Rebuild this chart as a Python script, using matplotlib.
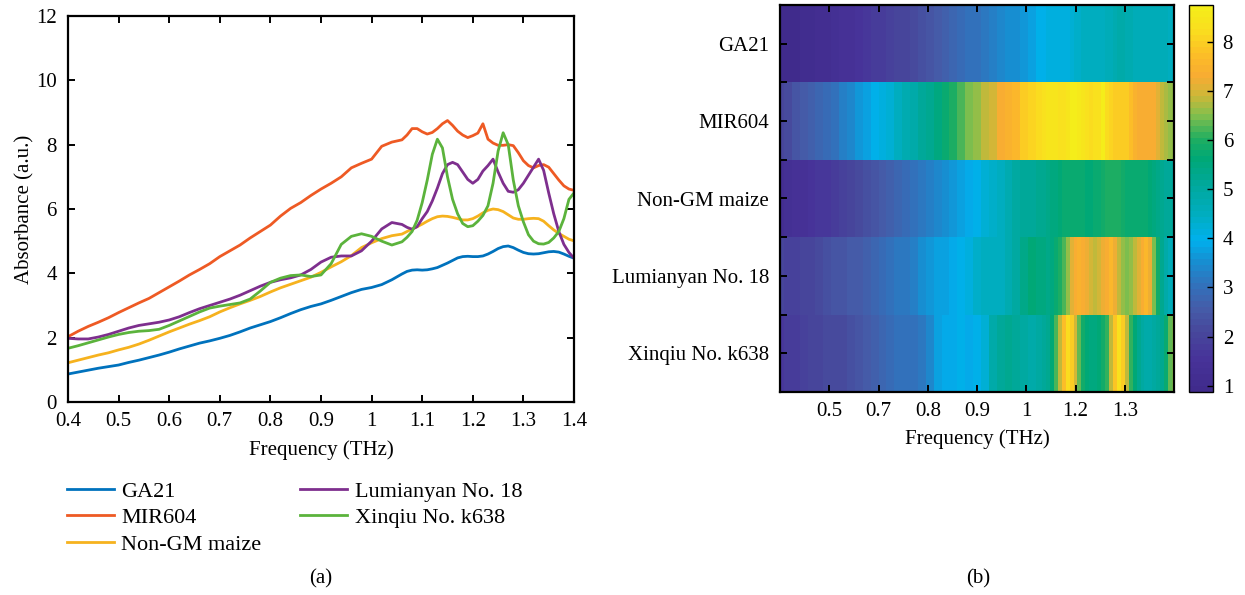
import numpy as np
import matplotlib
matplotlib.use("Agg")
import matplotlib.pyplot as plt
from matplotlib.colors import LinearSegmentedColormap

plt.rcParams['font.family'] = ['Liberation Serif', 'DejaVu Serif']
plt.rcParams['mathtext.fontset'] = 'stix'

# ---------------- data ----------------
freq = [0.40, 0.42, 0.44, 0.46, 0.48, 0.50, 0.52, 0.54, 0.56, 0.58,
        0.60, 0.62, 0.64, 0.66, 0.68, 0.70, 0.72, 0.74, 0.76, 0.78,
        0.80, 0.82, 0.84, 0.86, 0.88, 0.90, 0.92, 0.94, 0.96, 0.98,
        1.00, 1.02, 1.04, 1.06,
        1.07, 1.08, 1.09, 1.10, 1.11, 1.12, 1.13, 1.14, 1.15, 1.16,
        1.17, 1.18, 1.19, 1.20, 1.21, 1.22, 1.23, 1.24, 1.25, 1.26,
        1.27, 1.28, 1.29, 1.30, 1.31, 1.32, 1.33, 1.34, 1.35, 1.36,
        1.37, 1.38, 1.39, 1.40]

ga21 = [0.87, 0.93, 0.99, 1.05, 1.10, 1.15, 1.23, 1.30, 1.38, 1.46,
        1.55, 1.65, 1.74, 1.83, 1.90, 1.98, 2.07, 2.18, 2.30, 2.40,
        2.50, 2.62, 2.75, 2.87, 2.97, 3.05, 3.16, 3.28, 3.40, 3.50,
        3.56, 3.65, 3.80, 3.98,
        4.06, 4.10, 4.11, 4.10, 4.11, 4.14, 4.18, 4.25, 4.32, 4.40,
        4.48, 4.52, 4.53, 4.52, 4.52, 4.54, 4.60, 4.68, 4.77, 4.83,
        4.85, 4.80, 4.72, 4.65, 4.61, 4.60, 4.61, 4.64, 4.67, 4.68,
        4.66, 4.60, 4.53, 4.47]

mir604 = [2.03, 2.20, 2.35, 2.48, 2.62, 2.78, 2.93, 3.08, 3.22, 3.40,
          3.58, 3.76, 3.95, 4.12, 4.30, 4.52, 4.70, 4.88, 5.10, 5.30,
          5.50, 5.78, 6.02, 6.20, 6.42, 6.62, 6.80, 7.00, 7.28, 7.42,
          7.55, 7.95, 8.08, 8.15,
          8.30, 8.50, 8.50, 8.40, 8.33, 8.38, 8.50, 8.65, 8.75, 8.60,
          8.42, 8.30, 8.22, 8.28, 8.36, 8.65, 8.17, 8.05, 7.98, 7.98,
          8.00, 7.97, 7.75, 7.50, 7.35, 7.28, 7.35, 7.38, 7.30, 7.10,
          6.90, 6.72, 6.62, 6.58]

nongm = [1.22, 1.30, 1.38, 1.46, 1.53, 1.62, 1.70, 1.80, 1.92, 2.05,
         2.18, 2.30, 2.42, 2.53, 2.65, 2.80, 2.93, 3.05, 3.16, 3.28,
         3.42, 3.55, 3.66, 3.77, 3.88, 4.03, 4.20, 4.36, 4.55, 4.80,
         4.95, 5.08, 5.17, 5.22,
         5.30, 5.38, 5.45, 5.53, 5.62, 5.70, 5.76, 5.78, 5.77, 5.74,
         5.70, 5.66, 5.66, 5.70, 5.78, 5.88, 5.96, 6.00, 5.98, 5.92,
         5.82, 5.72, 5.68, 5.68, 5.70, 5.71, 5.70, 5.62, 5.48, 5.35,
         5.24, 5.15, 5.06, 5.01]

lumianyan = [1.98, 1.96, 1.96, 2.02, 2.10, 2.20, 2.30, 2.38, 2.43, 2.48,
             2.55, 2.65, 2.78, 2.90, 3.00, 3.10, 3.20, 3.32, 3.46, 3.60,
             3.72, 3.80, 3.86, 3.95, 4.12, 4.35, 4.50, 4.54, 4.54, 4.70,
             5.00, 5.38, 5.58, 5.52,
             5.43, 5.37, 5.45, 5.70, 5.92, 6.25, 6.65, 7.10, 7.38, 7.45,
             7.38, 7.15, 6.92, 6.80, 6.92, 7.18, 7.35, 7.55, 7.15, 6.80,
             6.55, 6.52, 6.60, 6.80, 7.05, 7.30, 7.55, 7.20, 6.50, 5.85,
             5.30, 4.90, 4.65, 4.47]

xinqiu = [1.67, 1.75, 1.84, 1.93, 2.02, 2.10, 2.16, 2.20, 2.22, 2.26,
          2.38, 2.52, 2.66, 2.80, 2.92, 2.98, 3.03, 3.08, 3.20, 3.45,
          3.72, 3.85, 3.93, 3.95, 3.90, 3.95, 4.30, 4.90, 5.15, 5.23,
          5.15, 5.00, 4.88, 4.98,
          5.12, 5.30, 5.65, 6.20, 6.90, 7.70, 8.17, 7.90, 7.00, 6.30,
          5.85, 5.55, 5.45, 5.48, 5.62, 5.80, 6.10, 6.80, 7.80, 8.37,
          8.00, 6.90, 6.10, 5.60, 5.20, 5.00, 4.92, 4.91, 4.96, 5.10,
          5.30, 5.70, 6.30, 6.50]

series_names = ["GA21", "MIR604", "Non-GM maize", "Lumianyan No. 18", "Xinqiu No. k638"]
series_values = [ga21, mir604, nongm, lumianyan, xinqiu]

xticks_a = [0.4, 0.5, 0.6, 0.7, 0.8, 0.9, 1.0, 1.1, 1.2, 1.3, 1.4]
xticklabels_a = ["0.4", "0.5", "0.6", "0.7", "0.8", "0.9", "1", "1.1", "1.2", "1.3", "1.4"]
yticks_a = [0, 2, 4, 6, 8, 10, 12]
heat_xticklabels = ["0.5", "0.7", "0.8", "0.9", "1", "1.2", "1.3"]
cbar_ticks = [1, 2, 3, 4, 5, 6, 7, 8]

# ---------------- style ----------------
line_colors = ["#0072BD", "#EE5A24", "#F6B21E", "#7E2F8E", "#5BB33C"]
FS = 15
LFS = 16
W, H = 1245, 595

fig = plt.figure(figsize=(W / 100, H / 100), dpi=100)

def fx(px):
    return px / W

def fy(py):
    return 1 - py / H

# ---------------- (a) line plot ----------------
ax = fig.add_axes([fx(68), fy(402), fx(574) - fx(68), fy(16) - fy(402)])
x = np.array(freq)
handles = []
for name, vals, c in zip(series_names, series_values, line_colors):
    h, = ax.plot(x, vals, color=c, lw=2.0, label=name, solid_joinstyle='round')
    handles.append(h)
ax.set_xlim(0.4, 1.4)
ax.set_ylim(0, 12)
ax.set_xticks(xticks_a)
ax.set_xticklabels(xticklabels_a)
ax.set_yticks(yticks_a)
ax.tick_params(direction='in', top=True, right=True, length=5, width=1.4,
               labelsize=FS)
ax.tick_params(axis='x', pad=7)
ax.tick_params(axis='y', pad=8)
for s in ax.spines.values():
    s.set_linewidth(1.6)
ax.set_xlabel("Frequency (THz)", fontsize=FS, labelpad=7)
ax.set_ylabel("Absorbance (a.u.)", fontsize=FS, labelpad=1)

leg = ax.legend(handles=handles, ncol=2, frameon=False, fontsize=LFS,
                loc='upper left', bbox_to_anchor=(fx(67), fy(481)),
                bbox_transform=fig.transFigure, borderpad=0, borderaxespad=0,
                handlelength=2.1, handletextpad=0.35, columnspacing=1.75,
                labelspacing=0.27)

fig.text(fx(321), fy(579), "(a)", ha='center', va='center', fontsize=FS)

# ---------------- (b) heatmap ----------------
cmap_colors = [
    (0.00, (0.25, 0.17, 0.55)),
    (0.08, (0.28, 0.20, 0.60)),
    (0.15, (0.28, 0.28, 0.61)),
    (0.21, (0.27, 0.36, 0.66)),
    (0.275, (0.19, 0.45, 0.74)),
    (0.34, (0.08, 0.57, 0.83)),
    (0.39, (0.00, 0.69, 0.93)),
    (0.46, (0.00, 0.68, 0.75)),
    (0.53, (0.00, 0.66, 0.62)),
    (0.605, (0.00, 0.66, 0.46)),
    (0.655, (0.12, 0.68, 0.38)),
    (0.72, (0.52, 0.75, 0.30)),
    (0.77, (0.80, 0.72, 0.22)),
    (0.82, (0.97, 0.67, 0.20)),
    (0.88, (0.99, 0.75, 0.15)),
    (0.94, (0.98, 0.87, 0.12)),
    (1.00, (0.96, 0.93, 0.10)),
]
cmap = LinearSegmentedColormap.from_list("parula_print", cmap_colors, N=64)

Z = np.array(series_values)
edges = np.concatenate([[x[0]], (x[:-1] + x[1:]) / 2, [x[-1]]])
rows = np.arange(len(series_names) + 1) + 0.5

axh = fig.add_axes([fx(780), fy(392), fx(1174) - fx(780), fy(5) - fy(392)])
mesh = axh.pcolormesh(edges, rows, Z, cmap=cmap, shading='flat')
axh.set_xlim(x[0], x[-1])
axh.set_ylim(rows[-1], rows[0])
heat_xticks = x[0] + (x[-1] - x[0]) * np.arange(1, 8) / 8
axh.set_xticks(heat_xticks)
axh.set_xticklabels(heat_xticklabels)
axh.set_yticks(np.arange(1, len(series_names) + 1))
axh.set_yticklabels(series_names)
axh.set_yticks(rows[1:-1], minor=True)
axh.tick_params(which='both', direction='in', top=True, right=True, length=5,
                width=1.4, labelsize=FS)
axh.tick_params(axis='x', pad=7)
axh.tick_params(axis='y', pad=8)
for s in axh.spines.values():
    s.set_linewidth(1.6)
axh.set_xlabel("Frequency (THz)", fontsize=FS, labelpad=6)

cax = fig.add_axes([fx(1189), fy(392), fx(1213) - fx(1189), fy(5) - fy(392)])
cb = fig.colorbar(mesh, cax=cax, ticks=cbar_ticks)
cb.ax.tick_params(direction='in', length=4, width=1.0, labelsize=FS, pad=7)
cb.outline.set_linewidth(1.0)

fig.text(fx(978), fy(579), "(b)", ha='center', va='center', fontsize=FS)

fig.savefig("out.png", dpi=100)
